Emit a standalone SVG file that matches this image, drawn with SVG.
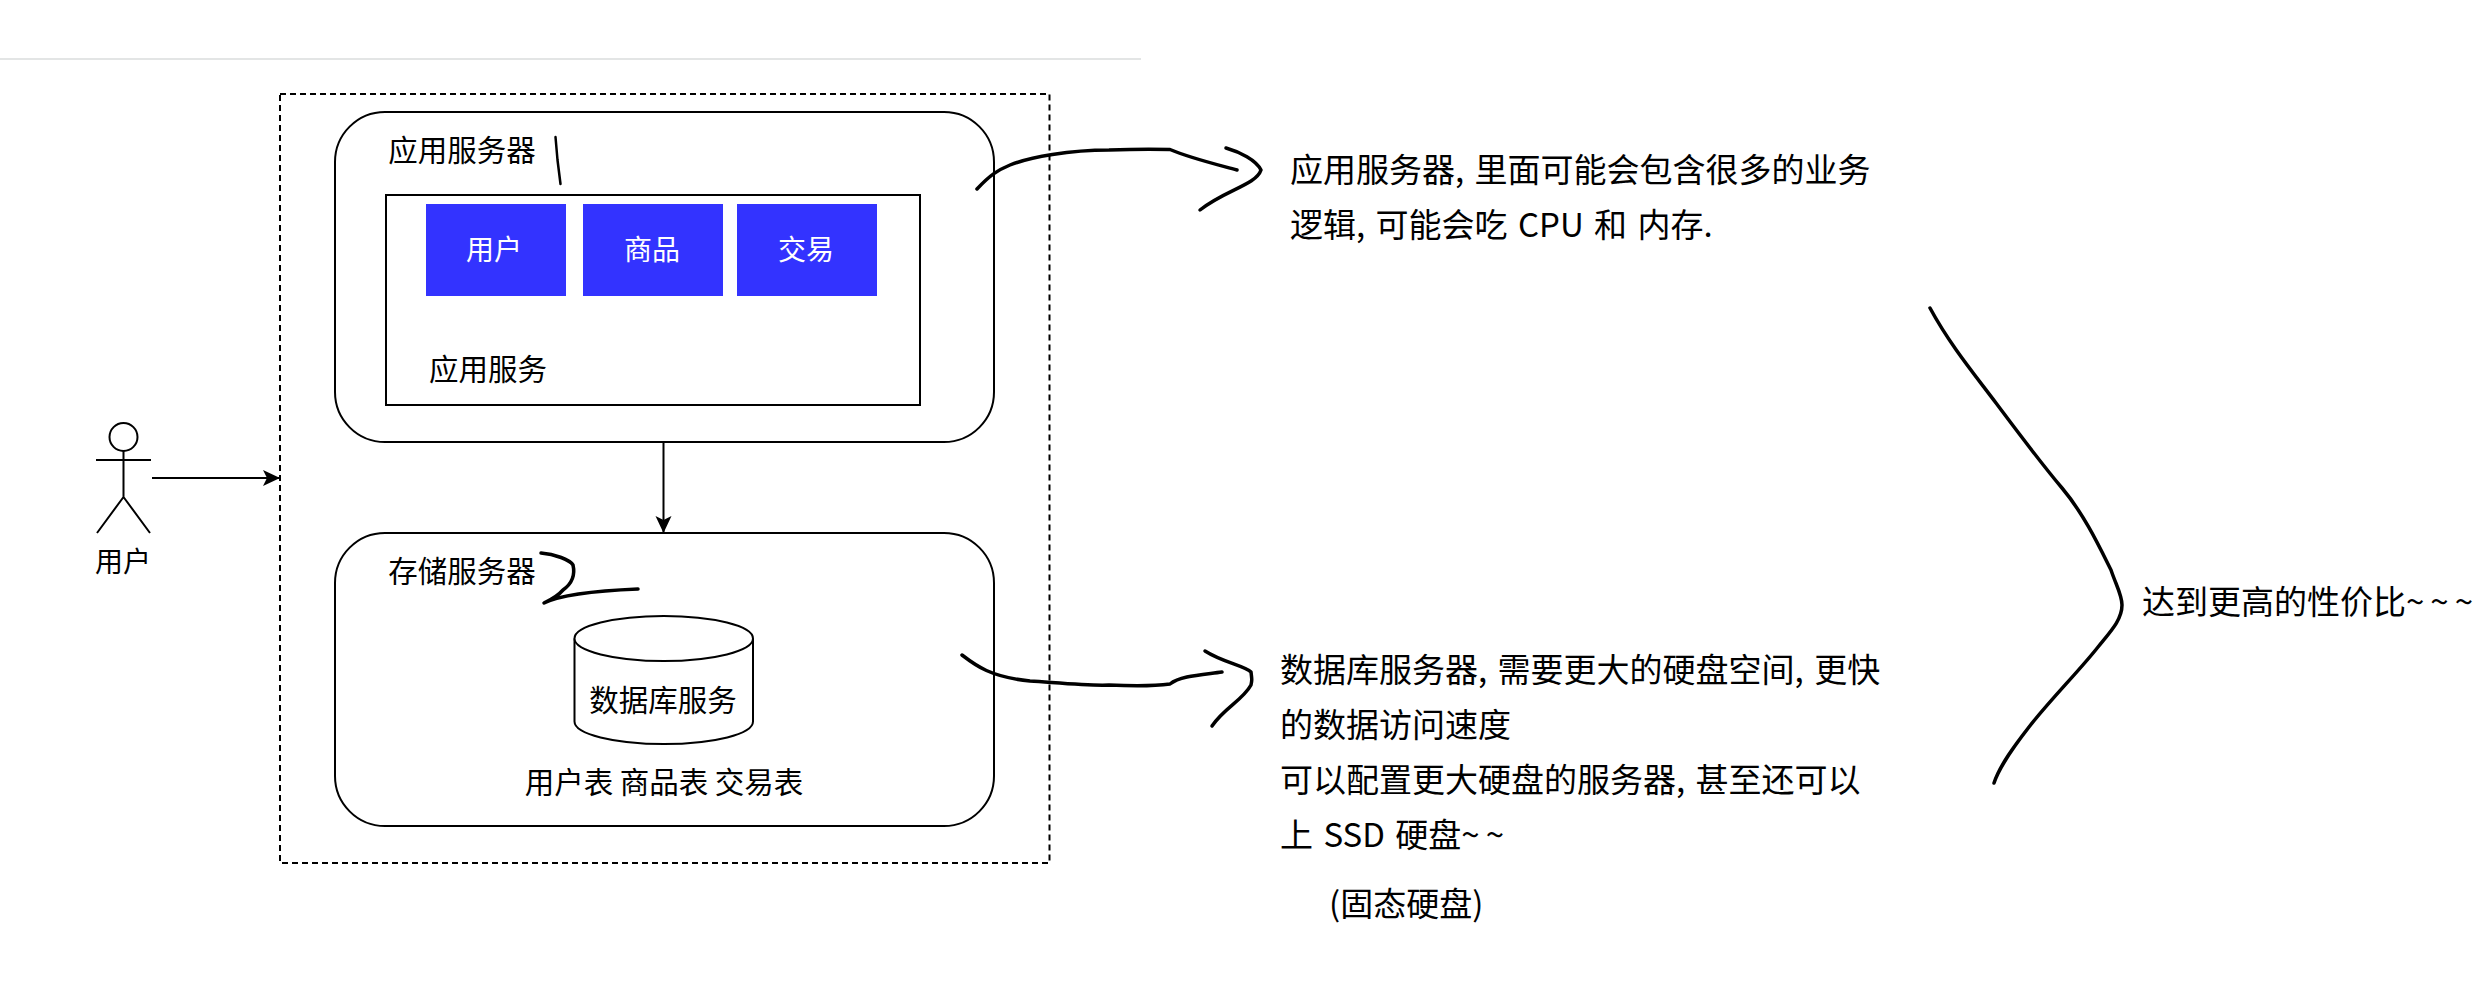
<svg xmlns="http://www.w3.org/2000/svg" width="2476" height="990" viewBox="0 0 2476 990">
<style>
text{font-family:"Noto Sans CJK SC","Noto Sans",sans-serif;fill:#000}
.l{font-size:29.500px;text-anchor:middle;dominant-baseline:central}
.w{font-size:28px;text-anchor:middle;dominant-baseline:central;fill:#fff}
.n{font-size:33px;dominant-baseline:central;word-spacing:3px}
.t{letter-spacing:6px}
.b{fill:#fff;stroke:#000;stroke-width:2}
.f{fill:#33f}
.s{fill:none;stroke:#000;stroke-width:3.500;stroke-linecap:round;stroke-linejoin:round}
.c{fill:none;stroke:#000;stroke-width:2}
</style>
<defs>
<marker id="a" markerWidth="20" markerHeight="20" refX="17" refY="9" orient="auto" markerUnits="userSpaceOnUse"><path d="M1 1L18 9L1 17L5 9Z" fill="#000"/></marker>
</defs>
<rect width="2476" height="990" fill="#fff"/>
<line x1="0" y1="59" x2="1141" y2="59" stroke="#e3e5e5" stroke-width="2"/>
<g id="outer"><rect x="280" y="94" width="769.500" height="769" fill="none" stroke="#000" stroke-width="2" stroke-dasharray="6 4"/></g>
<g id="app-server">
<rect class="b" x="335" y="112" width="659" height="330" rx="50" ry="50"/>
<text class="l" x="462" y="148">应用服务器</text>
</g>
<g id="app-service">
<rect class="b" x="386" y="195" width="534" height="210"/>
<text class="l" x="488" y="367">应用服务</text>
</g>
<g id="user-module"><rect class="f" x="426" y="204" width="140" height="92"/><text class="w" x="494" y="248">用户</text></g>
<g id="goods-module"><rect class="f" x="583" y="204" width="140" height="92"/><text class="w" x="652" y="248">商品</text></g>
<g id="trade-module"><rect class="f" x="737" y="204" width="140" height="92"/><text class="w" x="806" y="248">交易</text></g>
<g id="storage-server">
<rect class="b" x="335" y="533" width="659" height="293" rx="50" ry="50"/>
<text class="l" x="462" y="569">存储服务器</text>
<text class="l" x="664" y="780">用户表 商品表 交易表</text>
</g>
<g id="database">
<path class="b" d="M574.500 638.500V721.500C574.500 734 614 744 664 744S753 734 753 721.500V638.500"/>
<ellipse class="b" cx="663.750" cy="638.500" rx="89.250" ry="22.500"/>
<text class="l" x="663" y="698">数据库服务</text>
</g>
<g id="actor" class="c">
<ellipse cx="123.500" cy="437" rx="14" ry="14"/>
<path d="M123.500 451V497M96 460H151M123.500 497L97 533M123.500 497L150 533"/>
</g>
<text class="l" x="123" y="560" style="font-size:28px">用户</text>
<g id="connectors" class="c">
<path d="M152 478H279" marker-end="url(#a)"/>
<path d="M663.500 442V532" marker-end="url(#a)"/>
</g>
<g id="annotations">
<path class="s" style="stroke-width:2.500" d="M555.500 137L557.500 160L560.500 184"/>
<path class="s" d="M977 189C990 175 998 170 1010 165C1030 157 1070 150 1109 150C1135 149 1155 149 1170 149.500C1190 158 1215 164 1237 170"/>
<path class="s" d="M1226 148C1240 152 1256 160 1261 170C1256 185 1225 190 1200 210"/>
<path class="s" d="M962 655C975 665 990 677 1030 681C1060 683 1090 686 1109 685C1130 686 1155 686 1170 684C1180 676 1200 675 1222 672"/>
<path class="s" d="M1205 651C1222 662 1245 666 1251 672C1252 680 1252 680 1251 685C1243 700 1224 708 1212 726"/>
<path class="s" d="M541 553C555 554 570 560 573 565C576 578 570 585 563 590C557 597 550 600 544 603C560 595 590 591 638 589"/>
<path class="s" d="M1930 308C1950 345 1975 375 1996 403S2040 462 2062 488S2100 548 2111 570C2116 585 2122 595 2122 605C2122 620 2110 632 2098 647C2080 670 2050 700 2029 727C2015 745 2000 765 1994 783"/>
</g>
<g id="notes">
<text class="n" x="1290" y="168">应用服务器, 里面可能会包含很多的业务</text>
<text class="n" x="1290" y="223">逻辑, 可能会吃 CPU 和 内存.</text>
<text class="n" x="1280" y="668">数据库服务器, 需要更大的硬盘空间, 更快</text>
<text class="n" x="1280" y="723">的数据访问速度</text>
<text class="n" x="1280" y="778">可以配置更大硬盘的服务器, 甚至还可以</text>
<text class="n" x="1280" y="833">上 SSD 硬盘<tspan class="t">~~</tspan></text>
<text class="n" x="1329" y="902">(固态硬盘)</text>
<text class="n" x="2142" y="600">达到更高的性价比<tspan class="t">~~~</tspan></text>
</g>
</svg>
